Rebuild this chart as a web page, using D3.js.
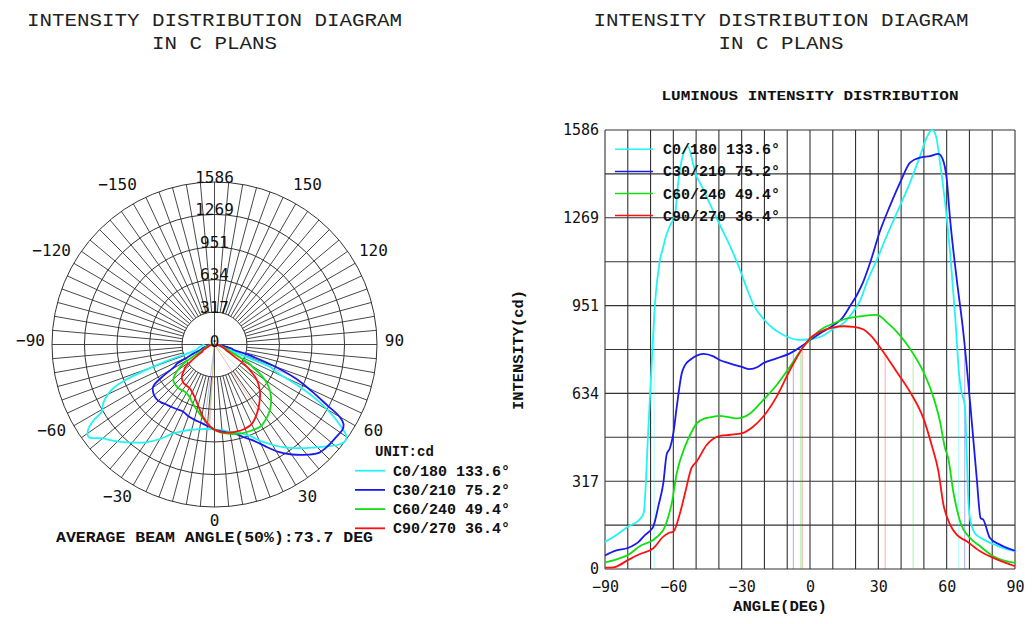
<!DOCTYPE html>
<html><head><meta charset="utf-8">
<script src="https://cdn.jsdelivr.net/npm/d3@7/dist/d3.min.js"></script>
<style>
html,body{margin:0;padding:0;background:#fff;}
svg{display:block;}
</style></head>
<body>
<svg id="chart" width="1033" height="624"></svg>
<script>
// ---------- DATA ----------
const planeNames = ["C0/180", "C30/210", "C60/240", "C90/270"];
const beamAngles = [133.6, 75.2, 49.4, 36.4];
const beamLeftEdges = [-68.4, -7.3, -4.1, -3.4];
const seriesColors = ["#22f4f4", "#1a1aee", "#10e010", "#ff1010"];
const radialTicks = [317, 634, 951, 1269, 1586];
const yTicks = [0, 317, 634, 951, 1269, 1586];
const xTicks = [-90, -60, -30, 0, 30, 60, 90];
const polarAngleLabels = [0, 30, 60, 90, 120, 150, -30, -60, -90, -120, -150];
const maxIntensity = 1586;

const c0Angles = [-90,-85,-80,-75,-73,-71,-69.5,-68,-66,-64.4,-63.5,-61.5,-59.3,-57.8,-56.3,-54.9,-53.6,-51.2,-49.7,-48.3,-43.9,-40,-35,-30,-27.8,-25,-20.6,-16.2,-13,-10,-5,0,5,10,15,19,22,25,29.3,33.7,39.5,43.9,48.3,51.2,53.6,55.3,57.1,59.3,61.5,63.7,65.5,66.5,68,68.8,69.5,70.3,72.4,75,80.5,85,90];
const c0Values = [98,123,153,177,203,502,743,966,1110,1164,1195,1240,1279,1400,1478,1514,1526,1460,1417,1395,1318,1250,1165,1065,1015,958,905,869,852,839,828,830,840,866,890,930,970,1036,1116,1204,1312,1396,1492,1558,1586,1564,1468,1324,1144,916,700,640,590,420,250,180,129,112,90,75,64];

const c30Angles = [-90,-85,-80,-75,-73,-70,-68.8,-66.5,-64.4,-62.9,-61.5,-60,-58.5,-56.3,-55,-52.7,-50,-46.8,-42.4,-39.7,-35,-30,-26.5,-23,-20.6,-14.7,-8.8,-2.9,0,4.4,10.3,14,17.6,20.6,23.5,26.3,30.7,35.1,40.2,43.9,48.3,52.7,56.4,58.3,60,61.5,64.4,67.3,70.3,73.2,74.9,76.1,79,83.4,90];
const c30Values = [49,67,76,100,118,140,153,230,310,415,436,490,586,707,735,755,770,777,768,755,742,730,722,730,743,761,779,809,827,851,881,905,950,990,1040,1104,1220,1312,1408,1468,1486,1492,1500,1480,1410,1264,1048,856,600,328,184,178,112,88,66];

const c60Angles = [-90,-85,-79.8,-74.6,-68.8,-66,-64.4,-62,-60.7,-58.5,-54.9,-52,-49.8,-46,-43.9,-40,-35.1,-32.1,-26.3,-20.6,-14.7,-8.8,-2.9,0,4.4,10.3,16.2,22,26.5,29.3,33.7,39.5,43.9,49.8,53.4,57.1,59.3,60.7,62.9,65.9,70.3,74.7,80.5,90];
const c60Values = [24,35,51,83,105,125,141,195,237,346,442,495,526,545,548,553,548,544,562,610,664,731,803,829,863,887,905,913,917,918,892,844,796,712,640,532,436,400,280,172,112,82,46,22];

const c90Angles = [-90,-86.3,-79.8,-74.6,-68.8,-64.4,-62,-60,-57.1,-54.9,-52,-49.8,-45.4,-39.5,-35,-30,-25,-20.6,-14.7,-8.8,-2.9,0,4.4,10.3,14.7,19.1,23.5,26.5,32.2,38.1,43.9,49.8,53.4,56.4,58.6,61.5,64.4,68.8,74.7,80.5,90];
const c90Values = [5,6,33,54,75,117,130,135,201,273,365,388,448,481,485,490,514,550,622,719,803,833,857,873,877,875,865,845,784,712,640,544,448,352,232,160,124,100,64,40,10];

const seriesAngles = [c0Angles, c30Angles, c60Angles, c90Angles];
const seriesValues = [c0Values, c30Values, c60Values, c90Values];

// ---------- BUILD ----------
const series = planeNames.map((name, i) => ({
  name, color: seriesColors[i], beam: beamAngles[i],
  left: beamLeftEdges[i], right: +(beamLeftEdges[i] + beamAngles[i]).toFixed(1),
  pts: seriesAngles[i].map((a, j) => ({a, v: seriesValues[i][j]}))
}));
series.forEach(s => {
  s.interp = d3.scaleLinear().domain(s.pts.map(p => p.a)).range(s.pts.map(p => p.v));
});

const svg = d3.select("#chart");
const numFont = "'DejaVu Sans Mono', monospace";
const txtFont = "'Liberation Mono', 'Courier New', monospace";

// Titles
[214.5, 781].forEach(cx => {
  svg.append("text").attr("x", cx).attr("y", 26).attr("text-anchor", "middle")
    .attr("font-family", txtFont).attr("font-size", 19).attr("fill", "#222")
    .attr("textLength", 375).attr("lengthAdjust", "spacingAndGlyphs")
    .text("INTENSITY DISTRIBUTION DIAGRAM");
  svg.append("text").attr("x", cx).attr("y", 49).attr("text-anchor", "middle")
    .attr("font-family", txtFont).attr("font-size", 19).attr("fill", "#222")
    .attr("textLength", 125).attr("lengthAdjust", "spacingAndGlyphs")
    .text("IN C PLANS");
});

// ---------- POLAR ----------
const CX = 214.5, CY = 344.5, R = 162.5;
const rScale = d3.scaleLinear().domain([0, maxIntensity]).range([0, R]);
const polar = svg.append("g").attr("transform", `translate(${CX},${CY})`);
const rad = a => a * Math.PI / 180;
const px = (a, r) => r * Math.sin(rad(a));
const py = (a, r) => r * Math.cos(rad(a));

// spokes
d3.range(0, 360, 5).forEach(a => {
  const r0 = (a % 90 === 0) ? 0 : rScale(radialTicks[0]);
  polar.append("line")
    .attr("x1", px(a, r0)).attr("y1", py(a, r0))
    .attr("x2", px(a, R)).attr("y2", py(a, R))
    .attr("stroke", "#333").attr("stroke-width", 0.9);
});
// rings
radialTicks.forEach(t => {
  polar.append("circle").attr("r", rScale(t)).attr("fill", "none")
    .attr("stroke", "#333").attr("stroke-width", 1);
});

// beam lines (polar)
series.forEach(s => {
  [s.left, s.right].forEach(a => {
    const r = rScale(s.interp(a));
    polar.append("line").attr("x1", 0).attr("y1", 0)
      .attr("x2", px(a, r)).attr("y2", py(a, r))
      .attr("stroke", s.color).attr("stroke-opacity", 0.3).attr("stroke-width", 1);
  });
});

const radial = d3.lineRadial()
  .angle(d => Math.PI - rad(d.a))
  .radius(d => rScale(d.v))
  .curve(d3.curveCatmullRom);
series.forEach(s => {
  polar.append("path").attr("d", radial(s.pts)).attr("fill", "none")
    .attr("stroke", s.color).attr("stroke-width", 1.8);
});

// radial labels
radialTicks.forEach(t => {
  polar.append("text").attr("x", 0).attr("y", -rScale(t) - 5)
    .attr("text-anchor", "middle").attr("dominant-baseline", "central")
    .attr("font-family", numFont).attr("font-size", 16).attr("fill", "#111")
    .text(t);
});
polar.append("text").attr("x", 0).attr("y", -3).attr("text-anchor", "middle")
  .attr("dominant-baseline", "central").attr("font-family", numFont)
  .attr("font-size", 16).attr("fill", "#111").text("0");

// angle labels
polarAngleLabels.forEach(a => {
  const rl = 180;
  const side = Math.sign(a);
  const extra = (Math.abs(a) % 90 !== 0) ? 3 * side : 0;
  polar.append("text")
    .attr("x", px(a, rl) + extra + (a < 0 ? -4 : 0))
    .attr("y", py(a, rl) - 4)
    .attr("text-anchor", "middle").attr("dominant-baseline", "central")
    .attr("font-family", numFont).attr("font-size", 16).attr("fill", "#111")
    .text(a < 0 ? "\u2212" + Math.abs(a) : a);
});

// left legend
svg.append("text").attr("x", 375).attr("y", 456)
  .attr("font-family", txtFont).attr("font-weight", "bold").attr("font-size", 14)
  .attr("fill", "#111").text("UNIT:cd");
series.forEach((s, i) => {
  const y = 470.7 + i * 19.2;
  svg.append("line").attr("x1", 355).attr("x2", 385).attr("y1", y).attr("y2", y)
    .attr("stroke", s.color).attr("stroke-width", 1.8);
  svg.append("text").attr("x", 393).attr("y", y + 5)
    .attr("font-family", txtFont).attr("font-weight", "bold").attr("font-size", 15)
    .attr("fill", "#111").text(`${s.name} ${s.beam.toFixed(1)}\u00B0`);
});

svg.append("text").attr("x", 214.5).attr("y", 542).attr("text-anchor", "middle")
  .attr("font-family", txtFont).attr("font-weight", "bold").attr("font-size", 14.5)
  .attr("fill", "#111").attr("textLength", 317).attr("lengthAdjust", "spacingAndGlyphs")
  .text("AVERAGE BEAM ANGLE(50%):73.7 DEG");

// ---------- CARTESIAN ----------
const x = d3.scaleLinear().domain([-90, 90]).range([605, 1015]);
const y = d3.scaleLinear().domain([0, maxIntensity]).range([569, 130]);
const grid = svg.append("g");
d3.range(-90, 91, 10).forEach(a => {
  grid.append("line").attr("x1", x(a)).attr("x2", x(a)).attr("y1", y(0)).attr("y2", y(maxIntensity))
    .attr("stroke", "#333").attr("stroke-width", 1.1);
});
d3.range(0, 11).forEach(i => {
  const v = i * maxIntensity / 10;
  grid.append("line").attr("x1", x(-90)).attr("x2", x(90)).attr("y1", y(v)).attr("y2", y(v))
    .attr("stroke", "#333").attr("stroke-width", 1.1);
});

// beam lines
series.forEach(s => {
  [s.left, s.right].forEach(a => {
    svg.append("line").attr("x1", x(a)).attr("x2", x(a))
      .attr("y1", y(0)).attr("y2", y(s.interp(a)))
      .attr("stroke", s.color).attr("stroke-opacity", 0.3).attr("stroke-width", 1.2);
  });
});

const line = d3.line().x(d => x(d.a)).y(d => y(d.v)).curve(d3.curveMonotoneX);
series.forEach(s => {
  svg.append("path").attr("d", line(s.pts)).attr("fill", "none")
    .attr("stroke", s.color).attr("stroke-width", 1.8);
});

// axes
const xAxis = svg.append("g").attr("transform", `translate(0,${y(0)})`)
  .call(d3.axisBottom(x).tickValues(xTicks).tickSize(0).tickPadding(12)
    .tickFormat(d => d < 0 ? "\u2212" + Math.abs(d) : d));
const yAxis = svg.append("g").attr("transform", `translate(${x(-90)},0)`)
  .call(d3.axisLeft(y).tickValues(yTicks).tickSize(0).tickPadding(6).tickFormat(d3.format("d")));
[xAxis, yAxis].forEach(g => {
  g.select(".domain").remove();
  g.selectAll("text").attr("font-family", numFont).attr("font-size", 15).attr("fill", "#111");
});

svg.append("text").attr("x", 810).attr("y", 100).attr("text-anchor", "middle")
  .attr("font-family", txtFont).attr("font-weight", "bold").attr("font-size", 13.5)
  .attr("fill", "#111").attr("textLength", 297).attr("lengthAdjust", "spacingAndGlyphs")
  .text("LUMINOUS INTENSITY DISTRIBUTION");
svg.append("text").attr("x", 780).attr("y", 611).attr("text-anchor", "middle")
  .attr("font-family", txtFont).attr("font-weight", "bold").attr("font-size", 14)
  .attr("fill", "#111").attr("textLength", 94).attr("lengthAdjust", "spacingAndGlyphs")
  .text("ANGLE(DEG)");
svg.append("text").attr("transform", "translate(523,350) rotate(-90)").attr("text-anchor", "middle")
  .attr("font-family", txtFont).attr("font-weight", "bold").attr("font-size", 14)
  .attr("fill", "#111").attr("textLength", 120).attr("lengthAdjust", "spacingAndGlyphs")
  .text("INTENSITY(cd)");

// right legend
series.forEach((s, i) => {
  const yy = 149.3 + i * 22.1;
  svg.append("line").attr("x1", 615).attr("x2", 653).attr("y1", yy).attr("y2", yy)
    .attr("stroke", s.color).attr("stroke-width", 1.5);
  svg.append("text").attr("x", 663).attr("y", yy + 5)
    .attr("font-family", txtFont).attr("font-weight", "bold").attr("font-size", 15)
    .attr("fill", "#111").text(`${s.name} ${s.beam.toFixed(1)}\u00B0`);
});
</script>
</body></html>
